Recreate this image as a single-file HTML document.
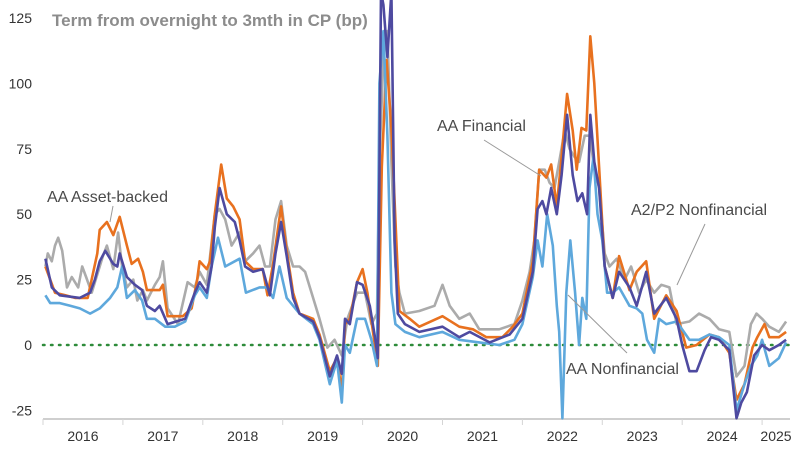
<!DOCTYPE html>
<html><head><meta charset="utf-8">
<style>
html,body{margin:0;padding:0;background:#fff;}
svg{display:block;font-family:"Liberation Sans",sans-serif;}
</style></head>
<body>
<svg id="chart" width="800" height="451" viewBox="0 0 800 451">
  <defs><clipPath id="plotclip"><rect x="40" y="0" width="760" height="430"/></clipPath></defs>
  <text x="52" y="26" font-size="17" font-weight="bold" fill="#8c8c8c">Term from overnight to 3mth in CP (bp)</text>
  <g id="yaxis"></g>
  <g id="xaxis"></g>
  <g id="series" clip-path="url(#plotclip)"></g>
  <g fill="#4a4a4a" font-size="16">
    <line x1="113" y1="206" x2="110" y2="222" stroke="#999" stroke-width="1"/>
    <text x="47" y="202">AA Asset-backed</text>
    <line x1="484" y1="140" x2="541" y2="176" stroke="#999" stroke-width="1"/>
    <text x="437" y="131">AA Financial</text>
    <line x1="705" y1="224" x2="677" y2="285" stroke="#999" stroke-width="1"/>
    <text x="631" y="215">A2/P2 Nonfinancial</text>
    <line x1="568" y1="295" x2="627" y2="353" stroke="#999" stroke-width="1"/>
    <text x="566" y="374">AA Nonfinancial</text>
  </g>
</svg>
<script>
const yTicks = [125, 100, 75, 50, 25, 0, -25];
const yearLabels = ["2016","2017","2018","2019","2020","2021","2022","2023","2024","2025"];
const yearTicks = [2016,2017,2018,2019,2020,2021,2022,2023,2024,2025];

// years since 2016 / values (bp)
const abT = [.03,.09,.15,.28,.40,.56,.68,.71,.80,.88,.96,1.05,1.11,1.19,1.25,1.30,1.46,1.50,1.56,1.75,1.86,1.93,1.96,2.05,2.09,2.15,2.23,2.30,2.38,2.46,2.53,2.63,2.75,2.81,2.88,2.98,3.05,3.13,3.21,3.38,3.46,3.59,3.68,3.74,3.78,3.84,3.93,4.00,4.06,4.13,4.19,4.24,4.30,4.36,4.46,4.59,4.71,5.00,5.21,5.38,5.55,5.75,5.88,6.00,6.13,6.21,6.30,6.36,6.43,6.49,6.56,6.63,6.68,6.74,6.80,6.85,6.90,6.96,7.03,7.13,7.21,7.34,7.43,7.55,7.65,7.80,7.93,8.05,8.18,8.34,8.46,8.59,8.68,8.78,8.88,8.94,9.03,9.09,9.21,9.30];
const abV = [30,25,20,19,18,18,35,44,47,42,49,38,31,33,28,21,21,23,11,11,14,25,32,29,32,50,69,56,53,48,32,29,29,19,31,53,36,20,12,10,4,-10,-5,-18,8,10,24,29,20,5,-8,68,109,83,13,10,7,11,7,6,3,3,7,12,32,67,64,69,53,72,96,82,67,83,82,118,100,68,30,18,34,21,28,32,10,19,13,-1,0,4,3,-3,-21,-15,-1,3,8,3,3,5];

const finT = [.03,.11,.21,.46,.59,.65,.71,.78,.88,.93,.96,1.05,1.15,1.24,1.30,1.40,1.46,1.56,1.78,1.90,1.96,2.05,2.11,2.15,2.21,2.30,2.40,2.46,2.53,2.63,2.75,2.84,2.91,2.98,3.05,3.13,3.21,3.38,3.46,3.59,3.68,3.74,3.78,3.84,3.93,4.00,4.09,4.16,4.19,4.23,4.26,4.31,4.36,4.40,4.44,4.53,4.71,5.00,5.21,5.34,5.59,5.84,6.00,6.13,6.19,6.25,6.30,6.36,6.43,6.49,6.56,6.63,6.69,6.75,6.81,6.85,6.90,6.96,7.03,7.13,7.21,7.34,7.43,7.55,7.65,7.80,7.93,8.00,8.09,8.18,8.28,8.36,8.46,8.59,8.68,8.74,8.81,8.90,9.00,9.09,9.21,9.30];
const finV = [33,22,19,18,20,25,32,36,31,30,35,26,23,21,15,13,15,8,10,20,24,20,30,45,60,50,47,40,30,28,29,19,35,47,34,18,12,9,3,-12,-4,-11,10,8,24,23,15,2,-5,135,130,110,135,40,12,8,5,7,3,5,1,4,10,28,52,55,50,60,50,65,88,65,55,58,50,88,70,60,30,18,28,22,15,28,12,18,10,0,-10,-10,-2,3,2,-2,-28,-22,-18,-4,0,-2,0,2];

const nfT = [.03,.09,.21,.34,.46,.59,.71,.84,.93,.99,1.05,1.15,1.24,1.30,1.40,1.53,1.65,1.78,1.90,1.96,2.05,2.11,2.19,2.28,2.46,2.54,2.71,2.80,2.88,2.96,3.05,3.13,3.21,3.38,3.46,3.59,3.68,3.74,3.78,3.84,3.93,4.03,4.11,4.18,4.21,4.26,4.31,4.36,4.41,4.53,4.71,5.00,5.21,5.46,5.71,5.90,6.00,6.13,6.19,6.25,6.31,6.38,6.43,6.46,6.50,6.55,6.60,6.66,6.71,6.75,6.80,6.84,6.89,6.94,7.00,7.06,7.13,7.21,7.34,7.43,7.50,7.56,7.65,7.71,7.80,7.93,8.09,8.21,8.34,8.46,8.59,8.68,8.78,8.86,8.94,9.00,9.09,9.21,9.30];
const nfV = [19,16,16,15,14,12,14,18,22,30,18,21,17,10,10,7,7,9,19,22,18,30,41,30,33,20,22,22,18,30,18,15,12,8,2,-15,-6,-22,0,-3,10,10,2,-8,100,120,80,20,8,5,3,5,2,1,0,2,8,26,40,30,50,38,15,5,-28,20,40,20,0,18,10,60,72,50,40,20,20,22,15,14,12,2,-3,10,8,9,2,2,4,3,0,-25,-15,-8,-4,2,-8,-5,1];

const a2T = [.03,.06,.11,.15,.19,.24,.30,.36,.44,.49,.54,.61,.68,.75,.80,.88,.94,.99,1.05,1.13,1.18,1.25,1.30,1.40,1.46,1.50,1.56,1.69,1.81,1.90,1.96,2.05,2.15,2.21,2.28,2.36,2.46,2.53,2.63,2.71,2.78,2.84,2.91,2.98,3.05,3.13,3.21,3.28,3.38,3.46,3.56,3.65,3.74,3.81,3.93,4.03,4.11,4.18,4.21,4.26,4.31,4.36,4.41,4.46,4.53,4.71,4.90,5.00,5.09,5.21,5.34,5.46,5.71,5.90,6.00,6.09,6.15,6.21,6.28,6.34,6.40,6.46,6.53,6.59,6.65,6.71,6.78,6.84,6.90,6.96,7.03,7.09,7.18,7.28,7.36,7.46,7.55,7.65,7.74,7.84,7.93,8.09,8.21,8.34,8.46,8.59,8.68,8.78,8.86,8.93,9.00,9.09,9.21,9.30];
const a2V = [30,35,32,38,41,36,22,26,22,30,26,20,27,34,38,29,43,30,22,25,17,21,17,23,26,32,14,8,24,22,28,23,50,52,48,38,43,32,35,38,30,30,48,55,38,30,30,28,18,10,-1,2,-4,10,20,20,8,12,70,110,120,70,30,20,12,13,15,23,15,10,12,6,6,8,17,28,40,67,67,62,60,70,82,75,72,70,80,80,68,60,35,30,33,25,30,20,25,20,23,22,8,9,12,10,6,5,-12,-8,8,12,10,7,5,9];

const X0 = 43, PX_PER_YEAR = 79.9, Y0 = 345, PX_PER_BP = 2.616;
function xScale(t){ return X0 + (t - 2016) * PX_PER_YEAR; }
function yScale(v){ return Y0 - v * PX_PER_BP; }
const NS = "http://www.w3.org/2000/svg";
const svg = document.getElementById('chart');

const yg = document.getElementById('yaxis');
yTicks.forEach(v => {
  const t = document.createElementNS(NS,'text');
  
  
  t.setAttribute('x', 32); t.setAttribute('y', yScale(v) + 5);
  t.setAttribute('text-anchor','end'); t.setAttribute('font-size','14'); t.setAttribute('fill','#333');
  t.textContent = v; yg.appendChild(t);
});
const zl = document.createElementNS(NS,'line');


zl.setAttribute('x1',43); zl.setAttribute('x2',790); zl.setAttribute('y1',yScale(0)); zl.setAttribute('y2',yScale(0));
zl.setAttribute('stroke','#2e8b3a'); zl.setAttribute('stroke-width','2.5'); zl.setAttribute('stroke-dasharray','1.5 6.5'); zl.setAttribute('stroke-linecap','round');
yg.appendChild(zl);

const xg = document.getElementById('xaxis');
const ax = document.createElementNS(NS,'line');


ax.setAttribute('x1',43); ax.setAttribute('x2',790); ax.setAttribute('y1',419); ax.setAttribute('y2',419);
ax.setAttribute('stroke','#cfcfcf'); ax.setAttribute('stroke-width','2');
xg.appendChild(ax);
yearTicks.forEach((yr,i) => {
  const tk = document.createElementNS(NS,'line');
  
  
  tk.setAttribute('x1',xScale(yr)); tk.setAttribute('x2',xScale(yr)); tk.setAttribute('y1',419); tk.setAttribute('y2',425);
  tk.setAttribute('stroke','#d5d5d5'); tk.setAttribute('stroke-width','1');
  xg.appendChild(tk);
  const lb = document.createElementNS(NS,'text');
  
  
  const cx = i === yearTicks.length-1 ? 776 : xScale(yr + 0.5);
  lb.setAttribute('x', cx); lb.setAttribute('y', 441);
  lb.setAttribute('text-anchor','middle'); lb.setAttribute('font-size','14'); lb.setAttribute('fill','#333');
  lb.textContent = yearLabels[i]; xg.appendChild(lb);
});

const sg = document.getElementById('series');
function draw(T, V, color, name){
  let d = '';
  T.forEach((t,i) => { d += (i ? 'L' : 'M') + xScale(2016 + t).toFixed(1) + ',' + yScale(V[i]).toFixed(1); });
  const p = document.createElementNS(NS,'path');
  
  
  p.setAttribute('d', d); p.setAttribute('fill','none'); p.setAttribute('stroke',color);
  p.setAttribute('stroke-width','2.6'); p.setAttribute('stroke-linejoin','round');
  sg.appendChild(p);
}
draw(a2T, a2V, '#ababab', 'a2p2-nonfinancial-line');
draw(abT, abV, '#e8711f', 'aa-asset-backed-line');
draw(nfT, nfV, '#5ea8dc', 'aa-nonfinancial-line');
draw(finT, finV, '#4e4aa0', 'aa-financial-line');
</script>
</body></html>
